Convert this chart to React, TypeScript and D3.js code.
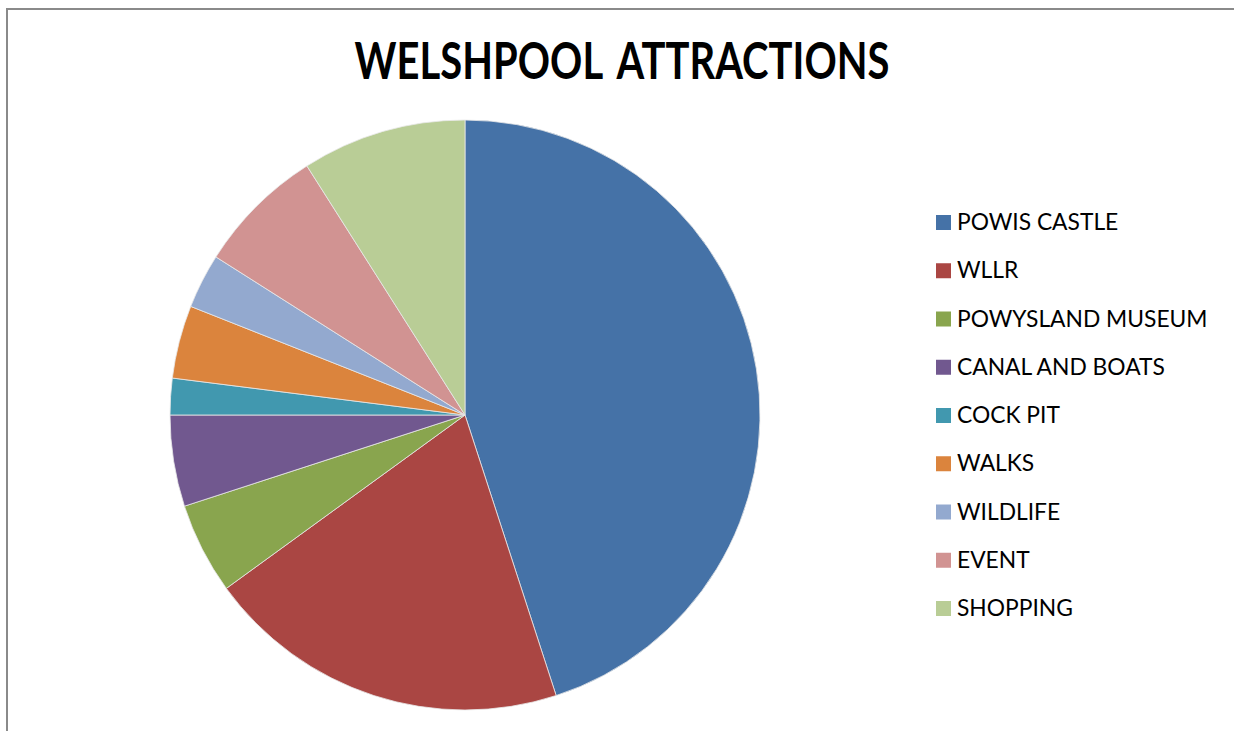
import { useEffect, useRef } from "react";
import * as d3 from "d3";

const categories: string[] = [
  "POWIS CASTLE",
  "WLLR",
  "POWYSLAND MUSEUM",
  "CANAL AND BOATS",
  "COCK PIT",
  "WALKS",
  "WILDLIFE",
  "EVENT",
  "SHOPPING",
];

const values: number[] = [45, 20, 5, 5, 2, 4, 3, 7, 9];

const colors: string[] = [
  "#4572A7",
  "#AA4643",
  "#89A54E",
  "#71588F",
  "#4198AF",
  "#DB843D",
  "#93A9CF",
  "#D19392",
  "#B9CD96",
];

const title = "WELSHPOOL ATTRACTIONS";

function PieChart() {
  const svgRef = useRef<SVGSVGElement>(null);

  useEffect(() => {
    if (!svgRef.current) return;

    const svg = d3.select(svgRef.current);
    svg.selectAll("*").remove();

    const width = 1234;
    const height = 731;
    svg.attr("width", width).attr("height", height);

    // chart frame
    svg
      .append("rect")
      .attr("x", 7)
      .attr("y", 9)
      .attr("width", width + 20)
      .attr("height", height + 20)
      .attr("fill", "#fff")
      .attr("stroke", "#8a8a8a")
      .attr("stroke-width", 2);

    // title, squeezed horizontally to the width of the Calibri original
    const titleText = svg
      .append("text")
      .attr("text-anchor", "middle")
      .attr("font-family", "Lato, 'Open Sans', sans-serif")
      .attr("font-weight", "bold")
      .attr("font-size", 51)
      .attr("word-spacing", 8)
      .attr("fill", "#000")
      .text(title);
    const natural = (titleText.node() as SVGTextElement).getComputedTextLength();
    const sx = natural > 0 ? 535 / natural : 0.8;
    titleText.attr("transform", `translate(622,79) scale(${sx},1)`);

    const cx = 465;
    const cy = 415;
    const radius = 295;

    const pie = d3
      .pie<number>()
      .sort(null)
      .value((d) => d);

    const arc = d3.arc<d3.PieArcDatum<number>>().innerRadius(0).outerRadius(radius);

    const color = d3.scaleOrdinal<string, string>().domain(categories).range(colors);

    const g = svg.append("g").attr("transform", `translate(${cx},${cy})`);

    g.selectAll(".slice")
      .data(pie(values))
      .join("path")
      .attr("class", "slice")
      .attr("d", arc)
      .attr("fill", (_, i) => color(categories[i]))
      .attr("stroke", "#e8e8e8")
      .attr("stroke-width", 0.8);

    // legend
    const legendY = d3
      .scalePoint<string>()
      .domain(categories)
      .range([222, 608]);

    const legend = svg
      .append("g")
      .selectAll(".item")
      .data(categories)
      .join("g")
      .attr("class", "item")
      .attr("transform", (d) => `translate(936,${legendY(d)})`);

    legend
      .append("rect")
      .attr("x", 0)
      .attr("y", -7)
      .attr("width", 15)
      .attr("height", 15)
      .attr("fill", (d) => color(d));

    legend
      .append("text")
      .attr("x", 21)
      .attr("y", 8)
      .attr("font-family", "Lato, 'Open Sans', sans-serif")
      .attr("font-size", 22.8)
      .attr("fill", "#000")
      .text((d) => d);
  }, []);

  return <svg ref={svgRef} style={{ position: "absolute", left: 0, top: 0 }}></svg>;
}

export default function App() {
  return <PieChart />;
}
